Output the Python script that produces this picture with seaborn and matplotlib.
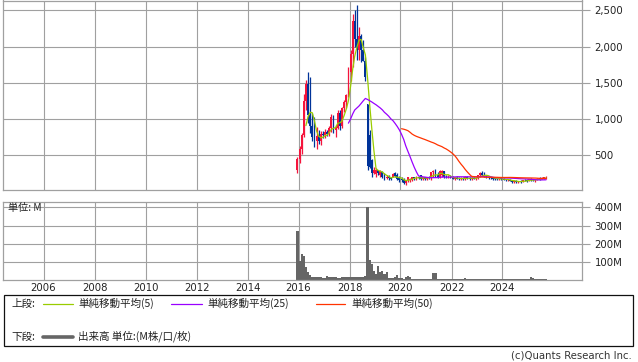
import numpy as np
import pandas as pd
import matplotlib
matplotlib.use("Agg")
import matplotlib.pyplot as plt
import seaborn as sns
from matplotlib.lines import Line2D
from matplotlib.patches import Rectangle

# ---------------- data (monthly, Dec 2015 .. Sep 2025) ----------------
start_month = "2015-12-01"
opens = [300, 450, 580, 780, 1250, 1480, 1050, 900, 750, 700, 760, 700, 790,
         780, 820, 790, 870, 1020, 850, 880, 1080, 900, 1150, 1230, 1330,
         1650, 1900, 2350, 2100, 1950, 2150, 1950, 1800, 1210,
         776, 430, 250, 240, 290, 220, 270, 230, 180, 200, 180, 200, 250, 220, 200,
         175, 150, 120, 150, 160, 170, 195, 180, 190, 220, 165, 190, 175, 195,
         185, 260, 300, 230, 190, 230, 280, 200, 190, 200,
         190, 175, 185, 175, 165, 180, 170, 200, 180, 170, 185, 175,
         180, 220, 250, 230, 215, 190, 185, 180, 175, 170, 165, 175,
         170, 160, 150, 160, 145, 130, 140, 125, 135, 130, 155, 150,
         140, 170, 155, 150, 160, 175, 170, 185, 190]
highs = [480, 620, 800, 1350, 1540, 1650, 1580, 1080, 1030, 890, 850, 830, 830,
         860, 850, 900, 1075, 1060, 920, 1120, 1120, 1170, 1260, 1350,
         1720, 1950, 2450, 2500, 2570, 2270, 2180, 2090, 1850, 1213,
         845, 440, 340, 316, 293, 293, 275, 247, 224, 224, 201, 247, 270, 247, 205,
         201, 180, 160, 201, 180, 200, 201, 205, 205, 224, 200, 200, 200, 210,
         270, 293, 302, 270, 293, 290, 285, 224, 224, 224,
         210, 200, 205, 190, 190, 195, 210, 215, 200, 195, 200, 190,
         230, 270, 280, 260, 230, 210, 200, 200, 190, 185, 185, 190,
         180, 175, 170, 170, 160, 150, 150, 145, 150, 160, 170, 165,
         175, 180, 170, 165, 180, 190, 195, 200, 205]
lows = [250, 390, 520, 750, 1120, 940, 800, 700, 610, 590, 660, 640, 730,
        740, 760, 770, 820, 800, 750, 860, 850, 880, 1100, 1150,
        1300, 1530, 1720, 1990, 1810, 1810, 1790, 1800, 1530, 290,
        316, 200, 240, 200, 224, 200, 178, 150, 175, 155, 155, 195, 200, 150, 132,
        132, 100, 86, 130, 130, 145, 155, 160, 165, 155, 155, 160, 160, 170,
        155, 200, 200, 178, 178, 201, 178, 178, 178, 178,
        165, 160, 165, 150, 150, 160, 160, 170, 160, 160, 165, 160,
        170, 200, 210, 200, 180, 170, 165, 160, 160, 150, 150, 160,
        150, 140, 140, 135, 120, 115, 115, 110, 120, 125, 140, 130,
        135, 145, 140, 130, 150, 160, 165, 170, 175]
closes = [450, 580, 780, 1250, 1480, 1050, 900, 750, 700, 760, 700, 790, 780,
          820, 790, 870, 1020, 850, 880, 1080, 900, 1150, 1230, 1330,
          1650, 1900, 2350, 2100, 1950, 2150, 1950, 1800, 1580, 350,
          340, 250, 300, 300, 250, 280, 200, 170, 200, 180, 170, 240, 210, 170, 150,
          150, 120, 150, 190, 175, 195, 180, 190, 185, 170, 195, 175, 195, 185,
          260, 280, 210, 190, 280, 285, 190, 190, 200, 190,
          175, 185, 175, 165, 180, 170, 200, 180, 170, 185, 175, 180,
          220, 250, 230, 215, 190, 185, 180, 175, 170, 165, 175, 170,
          160, 150, 160, 145, 130, 140, 125, 135, 130, 155, 150, 140,
          170, 155, 150, 160, 175, 170, 185, 190, 195]
volumes = [270, 102, 144, 133, 74, 43, 25, 19, 16, 15, 15, 15, 10,
           10, 24, 19, 16, 19, 16, 10, 10, 15, 18, 18, 19,
           14, 14, 14, 19, 18, 16, 18, 21, 400,
           111, 89, 50, 32, 78, 43, 49, 32, 45, 10, 10, 10, 14, 29, 10,
           10, 8, 16, 24, 19, 6, 6, 8, 7, 6, 6, 5, 5,
           6, 5, 39, 38, 6, 6, 8, 7, 5, 4, 4,
           4, 5, 4, 3, 3, 3, 12, 3, 3, 3, 3, 3,
           4, 8, 8, 8, 8, 8, 5, 4, 4, 5, 5, 3,
           6, 6, 4, 4, 3, 5, 5, 5, 8, 6, 6, 6,
           6, 19, 12, 8, 8, 8, 8, 8, 7]
ma_windows = [5, 25, 50]
ma_labels = ["単純移動平均(5)", "単純移動平均(25)", "単純移動平均(50)"]
ma_colors = ["#99cc00", "#9900ff", "#ff3300"]
year_ticks = list(range(2006, 2025, 2))
price_ticks = [500, 1000, 1500, 2000, 2500]
vol_ticks = [100, 200, 300, 400]

n = len(closes)
months = pd.date_range(start_month, periods=n, freq="MS")
centers = months + pd.Timedelta(days=15)
df = pd.DataFrame({"date": centers, "open": opens[:n], "high": highs[:n],
                   "low": lows[:n], "close": closes, "volume": volumes[:n]})

# moving averages
ma_frames = []
for w, lab in zip(ma_windows, ma_labels):
    m = df["close"].rolling(w).mean()
    ma_frames.append(pd.DataFrame({"date": df["date"], "value": m, "series": lab}))
ma_df = pd.concat(ma_frames).dropna()

# ---------------- styling ----------------
sns.set_style("white")
plt.rcParams["font.family"] = ["DejaVu Sans", "Noto Sans CJK JP"]
FS = 7.3
LFS = 7.6
GRID = "#a0a0a0"
TXT = "#222222"

fig = plt.figure(figsize=(6.38, 3.62), dpi=100)
W, H = 638.0, 362.0
ax1 = fig.add_axes([3 / W, 1 - 190 / H, 579 / W, 189.5 / H])
ax2 = fig.add_axes([3 / W, 1 - 280 / H, 579 / W, 78 / H])

xlim = (pd.Timestamp("2004-05-30"), pd.Timestamp("2027-02-13"))
xt = [pd.Timestamp(f"{y}-01-01") for y in year_ticks]

for ax in (ax1, ax2):
    ax.set_xlim(*xlim)
    ax.set_xticks(xt)
    for s in ax.spines.values():
        s.set_color(GRID)
        s.set_linewidth(0.9)
    ax.grid(True, color=GRID, linewidth=0.8)
    ax.set_axisbelow(True)
    ax.yaxis.tick_right()
    ax.tick_params(axis="y", length=6, width=0.8, color=GRID, labelsize=FS,
                   labelcolor=TXT, pad=3)

# ---------------- top: candles + MAs ----------------
up = df["close"] >= df["open"]
cols = np.where(up, "#f5143c", "#003399")
ax1.vlines(df["date"], df["low"], df["high"], colors=cols, linewidth=0.9, zorder=2)
body_lo = np.minimum(df["open"], df["close"])
body_h = np.maximum(np.abs(df["close"] - df["open"]), 10)
ax1.bar(df["date"], body_h, bottom=body_lo, width=26, color=cols, linewidth=0, zorder=2)

sns.lineplot(data=ma_df, x="date", y="value", hue="series",
             palette=dict(zip(ma_labels, ma_colors)), linewidth=0.9,
             legend=False, ax=ax1, zorder=3)
ax1.set_ylim(17, 2638)
ax1.set_yticks(price_ticks)
ax1.set_yticklabels([f"{v:,}" for v in price_ticks])
ax1.tick_params(axis="x", length=0, labelbottom=False)
ax1.set_xlabel("")
ax1.set_ylabel("")

# ---------------- bottom: volume ----------------
widths = [(months[i] + pd.offsets.MonthBegin(1) - months[i]).days for i in range(n)]
ax2.bar(months, df["volume"], width=widths, align="edge", color="#666666",
        linewidth=0, zorder=2)
ax2.set_ylim(0, 430)
ax2.set_yticks(vol_ticks)
ax2.set_yticklabels([f"{v}M" for v in vol_ticks])
ax2.set_xticklabels([str(y) for y in year_ticks])
ax2.tick_params(axis="x", length=0, labelsize=FS, labelcolor=TXT, pad=2)
ax2.set_xlabel("")
ax2.set_ylabel("")
ax2.text(5 / 579, (280 - 208) / 78, "単位: M", transform=ax2.transAxes,
         fontsize=FS, color=TXT, va="center", ha="left",
         family=["Noto Sans CJK JP", "DejaVu Sans"], zorder=5)

# ---------------- legend box ----------------
def fx(px):
    return px / W

def fy(py):
    return 1 - py / H

fig.patches.append(Rectangle((fx(3.5), fy(346)), fx(633) - fx(3.5), fy(295) - fy(346),
                             transform=fig.transFigure, fill=False,
                             edgecolor="#111111", linewidth=0.9))
jp = ["Noto Sans CJK JP", "DejaVu Sans"]
r1, r2 = 303.5, 336.5
fig.text(fx(11.5), fy(r1), "上段:", fontsize=LFS, color=TXT, va="center", family=jp)
fig.text(fx(11.5), fy(r2), "下段:", fontsize=LFS, color=TXT, va="center", family=jp)
seg = [(43, 73, 78), (171, 202, 207), (316, 345, 351)]
for (x0, x1, xt0), lab, c in zip(seg, ma_labels, ma_colors):
    fig.lines.append(Line2D([fx(x0), fx(x1)], [fy(r1), fy(r1)], transform=fig.transFigure,
                            color=c, linewidth=0.9))
    fig.text(fx(xt0), fy(r1), lab, fontsize=LFS, color=TXT, va="center", family=jp)
fig.lines.append(Line2D([fx(43), fx(73)], [fy(r2), fy(r2)], transform=fig.transFigure,
                        color="#666666", linewidth=2.6))
fig.text(fx(78), fy(r2), "出来高 単位:(M株/口/枚)", fontsize=LFS, color=TXT, va="center", family=jp)

fig.text(fx(632), fy(356), "(c)Quants Research Inc.", fontsize=FS, color="#333333",
         va="center", ha="right")

fig.savefig("out.png", dpi=100, facecolor="white")
